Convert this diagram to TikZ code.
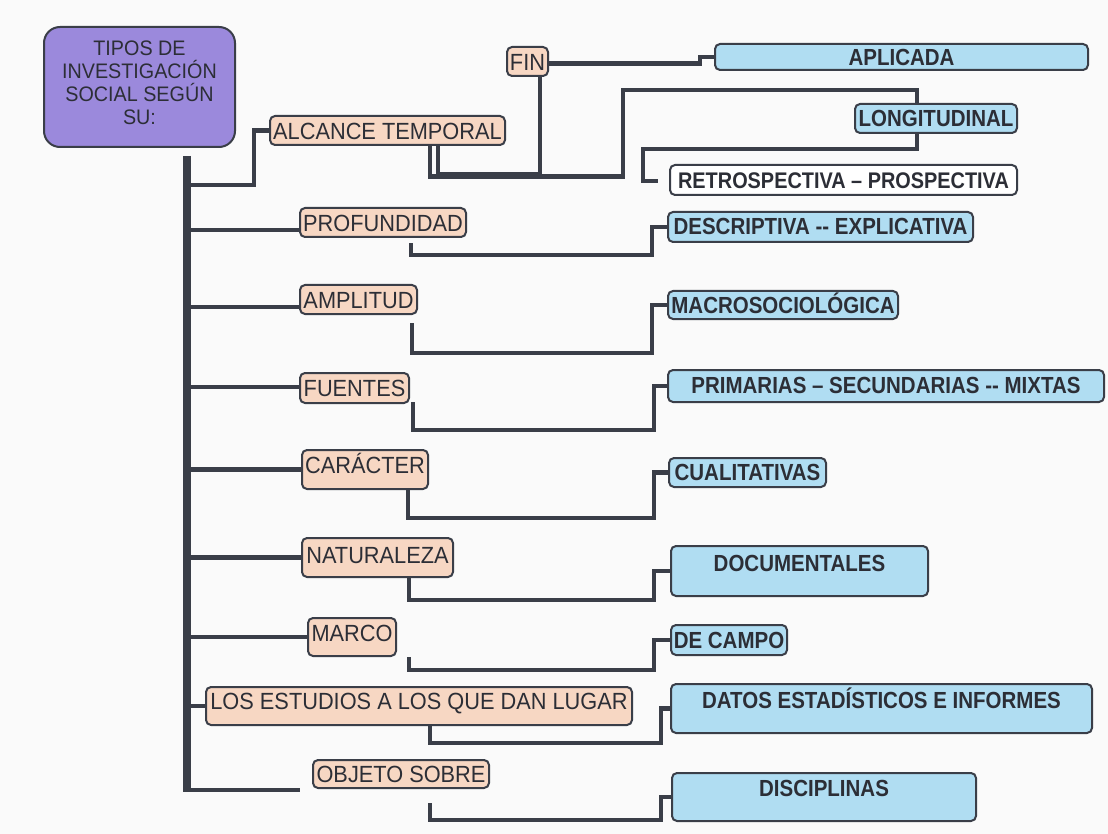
\documentclass[tikz,border=0pt]{standalone}
\usepackage{fontspec}
\setmainfont{Liberation Sans}
\newfontfamily\regc{Liberation Sans}[FakeStretch=0.93]
\newfontfamily\boldc{Liberation Sans}[FakeStretch=0.88]
\newfontfamily\titc{Liberation Sans}[FakeStretch=0.94]
\usetikzlibrary{calc}
\definecolor{purp}{RGB}{155,137,220}
\definecolor{peach}{RGB}{247,215,195}
\definecolor{sky}{RGB}{176,221,242}
\definecolor{lin}{RGB}{58,62,72}
\definecolor{txt}{RGB}{44,46,54}
\definecolor{bgc}{RGB}{250,250,250}
\begin{document}
\begin{tikzpicture}[x=1pt,y=-1pt,
  conn/.style={draw=lin, line width=4.5pt},
  trunkline/.style={draw=lin, line width=7.5pt},
  box/.style={draw=lin, line width=2pt, rounded corners=5pt, inner xsep=0pt, inner ysep=0pt, text=txt, anchor=center},
  pinkbox/.style={box, fill=peach, font=\regc\fontsize{23.4}{26}\selectfont},
  bluebox/.style={box, fill=sky, font=\boldc\fontsize{23.3}{26}\selectfont\bfseries},
  whitebox/.style={box, fill=white, font=\boldc\fontsize{22.6}{26}\selectfont\bfseries},
  hd/.style 2 args={text height=#1pt, text depth=#2pt},
  titletext/.style={align=center, text=txt, inner sep=0pt, font=\titc\fontsize{21}{23}\selectfont}
]
\fill[bgc] (0,0) rectangle (1108,834);
\useasboundingbox (0,0) rectangle (1108,834);

% main box
\node[draw=lin, line width=2pt, rounded corners=16pt, fill=purp, minimum width=191pt, minimum height=120pt, inner sep=0pt,
  label={[titletext, yshift=4.5pt]center:{TIPOS DE\\INVESTIGACIÓN\\SOCIAL SEGÚN\\SU:}}] (main) at (139.5,87) {};

% pink nodes
\node[pinkbox, minimum width=235pt, hd={23.4}{5.6}] (alc) at (387.5,130.5) {ALCANCE TEMPORAL};
\node[pinkbox, minimum width=41pt, hd={23.9}{5.1}] (fin) at (527.5,61.5) {FIN};
\node[pinkbox, minimum width=166pt, hd={23.9}{5.1}] (prof) at (383,222.5) {PROFUNDIDAD};
\node[pinkbox, minimum width=117pt, hd={23.4}{5.6}] (ampl) at (358.5,299.5) {AMPLITUD};
\node[pinkbox, minimum width=109pt, hd={23.9}{6.1}] (fuen) at (354.5,388) {FUENTES};
\node[pinkbox, minimum width=126pt, hd={23.4}{15.6}] (car) at (365,469.5) {CARÁCTER};
\node[pinkbox, minimum width=151pt, hd={25.4}{13.6}] (nat) at (377.5,557.5) {NATURALEZA};
\node[pinkbox, minimum width=88pt, hd={23.4}{14.6}] (marco) at (352,637) {MARCO};
\node[pinkbox, minimum width=426pt, hd={22.9}{15.1}] (est) at (419,706) {LOS ESTUDIOS A LOS QUE DAN LUGAR};
\node[pinkbox, minimum width=176pt, hd={22.4}{5.6}] (obj) at (401,774) {OBJETO SOBRE};

% blue / white nodes
\node[bluebox, minimum width=373pt, hd={21.35}{4.65}] (apl) at (901.5,57) {APLICADA};
\node[bluebox, minimum width=162pt, hd={22.85}{6.15}] (long) at (936,118.5) {LONGITUDINAL};
\node[whitebox, minimum width=347pt, hd={23.35}{6.65}] (retro) at (843.5,180) {RETROSPECTIVA – PROSPECTIVA};
\node[bluebox, minimum width=305pt, hd={22.35}{7.65}] (desc) at (820.5,227) {DESCRIPTIVA -{}- EXPLICATIVA};
\node[bluebox, minimum width=230pt, hd={22.35}{5.65}] (macro) at (783,305) {MACROSOCIOLÓGICA};
\node[bluebox, minimum width=436pt, hd={23.35}{8.65}] (prim) at (886,386) {PRIMARIAS – SECUNDARIAS -{}- MIXTAS};
\node[bluebox, minimum width=157pt, hd={22.85}{6.15}] (cual) at (747.5,472.5) {CUALITATIVAS};
\node[bluebox, minimum width=257pt, hd={25.35}{24.65}] (doc) at (799.5,571) {DOCUMENTALES};
\node[bluebox, minimum width=116pt, hd={23.35}{6.65}] (campo) at (729,640) {DE CAMPO};
\node[bluebox, minimum width=421pt, hd={24.35}{24.65}] (datos) at (881.5,708.5) {DATOS ESTADÍSTICOS E INFORMES};
\node[bluebox, minimum width=304pt, hd={23.35}{24.65}] (disc) at (824,797) {DISCIPLINAS};

% trunk
\coordinate (trtop) at (187,156);
\coordinate (objend) at (300,790);
\draw[trunkline] (trtop) -- (187,792.25);
\draw[conn] (187,790) -- (objend);

% branches from trunk
\draw[conn] (alc.west) -- ++(-15,0) |- (187,185);
\draw[conn] ([yshift=-7.5pt]prof.west) -- (187,230);
\draw[conn] ([yshift=-7.5pt]ampl.west) -- (187,307);
\draw[conn] ([yshift=1pt]fuen.west) -- (187,387);
\draw[conn] (car.west) -- (187,469.5);
\draw[conn] (nat.west) -- (187,557.5);
\draw[conn] (marco.west) -- (187,637);
\draw[conn] (est.west) -- (187,706);

% top section
\draw[conn] ([yshift=-2pt]fin.east) -- (700,63.5) |- (apl.west);
\draw[conn] ([xshift=12.5pt]fin.south) |- (438,174) -- ([xshift=50.5pt]alc.south);
\draw[conn] ([xshift=-19pt]long.north) -- (917,90) -| (623,176.5) -- (430,176.5) -- ([xshift=42.5pt]alc.south);
\coordinate (retroend) at (658,181);
\draw[conn] ([xshift=-19pt]long.south) |- (643,149) |- (retroend);

% sub connectors
\coordinate (s1) at (411,243);
\draw[conn] (desc.west) -- ++(-15,0) |- (411,255) -- (s1);
\coordinate (s2) at (412,323);
\draw[conn] (macro.west) -- ++(-15,0) |- (412,353) -- (s2);
\coordinate (s3) at (413,402);
\draw[conn] (prim.west) -- ++(-13,0) |- (413,430) -- (s3);
\coordinate (s4) at (408,489);
\draw[conn] (cual.west) -- ++(-14,0) |- (408,518) -- (s4);
\coordinate (s5) at (409,577);
\draw[conn] (doc.west) -- ++(-16,0) |- (409,600) -- (s5);
\coordinate (s6) at (409,657);
\draw[conn] (campo.west) -- ++(-16,0) |- (409,670) -- (s6);
\coordinate (s7) at (430,725);
\draw[conn] (datos.west) -- ++(-9,0) |- (430,743) -- (s7);
\coordinate (s8) at (430,803);
\draw[conn] (disc.west) -- ++(-10,0) |- (430,820) -- (s8);
\end{tikzpicture}
\end{document}
